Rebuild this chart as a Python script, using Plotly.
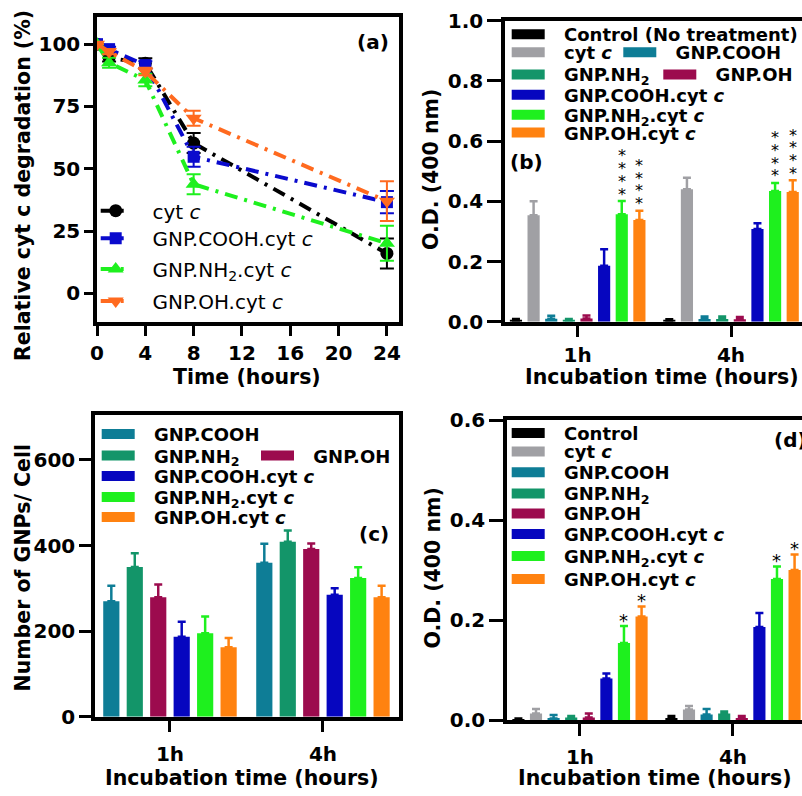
import plotly.graph_objects as go

W, H = 802, 796
FONT = "DejaVu Sans"

# ---------------- data ----------------
# (a) relative cyt c degradation (%)
time_hours = [0, 1, 4, 8, 24]
cytc_deg = [100, 94.5, 92.3, 60.3, 16.0]
cytc_deg_sd = [0, 1.5, 2.0, 4.0, 6.0]
cooh_cytc_deg = [100, 98.0, 91.6, 54.8, 36.6]
cooh_cytc_deg_sd = [0, 1.0, 1.5, 4.0, 4.5]
nh2_cytc_deg = [100, 92.5, 85.6, 43.8, 20.1]
nh2_cytc_deg_sd = [0, 2.0, 2.5, 4.0, 7.0]
oh_cytc_deg = [100, 97.0, 89.0, 70.3, 37.0]
oh_cytc_deg_sd = [0, 1.0, 1.5, 3.0, 8.0]

incubation = ["1h", "4h"]

# (b) O.D. (400 nm)
b_control = [0.004, 0.004]
b_control_sd = [0.005, 0.004]
b_cytc = [0.354, 0.440]
b_cytc_sd = [0.046, 0.038]
b_cooh = [0.010, 0.009]
b_cooh_sd = [0.010, 0.008]
b_nh2 = [0.005, 0.009]
b_nh2_sd = [0.004, 0.008]
b_oh = [0.011, 0.008]
b_oh_sd = [0.010, 0.008]
b_cooh_cytc = [0.186, 0.308]
b_cooh_cytc_sd = [0.055, 0.019]
b_nh2_cytc = [0.357, 0.434]
b_nh2_cytc_sd = [0.044, 0.027]
b_oh_cytc = [0.338, 0.431]
b_oh_cytc_sd = [0.031, 0.039]
b_nh2_cytc_stars = [4, 4]
b_oh_cytc_stars = [4, 4]

# (c) Number of GNPs / cell
c_cooh = [270, 360]
c_cooh_sd = [36, 44]
c_nh2 = [350, 409]
c_nh2_sd = [32, 26]
c_oh = [279, 392]
c_oh_sd = [30, 13]
c_cooh_cytc = [187, 285]
c_cooh_cytc_sd = [35, 15]
c_nh2_cytc = [195, 324]
c_nh2_cytc_sd = [39, 25]
c_oh_cytc = [162, 279]
c_oh_cytc_sd = [22, 27]

# (d) O.D. (400 nm)
d_control = [0.002, 0.004]
d_control_sd = [0.001, 0.004]
d_cytc = [0.013, 0.021]
d_cytc_sd = [0.009, 0.007]
d_cooh = [0.003, 0.011]
d_cooh_sd = [0.007, 0.011]
d_nh2 = [0.005, 0.013]
d_nh2_sd = [0.003, 0.004]
d_oh = [0.005, 0.004]
d_oh_sd = [0.008, 0.004]
d_cooh_cytc = [0.083, 0.186]
d_cooh_cytc_sd = [0.010, 0.028]
d_nh2_cytc = [0.154, 0.282]
d_nh2_cytc_sd = [0.034, 0.025]
d_oh_cytc = [0.207, 0.300]
d_oh_cytc_sd = [0.020, 0.031]
d_nh2_cytc_stars = [1, 1]
d_oh_cytc_stars = [1, 1]

# labels
L_CONTROL_B = "Control (No treatment)"
L_CONTROL_D = "Control"
L_CYTC = "cyt <i>c</i>"
L_COOH = "GNP.COOH"
L_NH2 = "GNP.NH<sub>2</sub>"
L_OH = "GNP.OH"
L_COOH_CYTC = "GNP.COOH.cyt <i>c</i>"
L_NH2_CYTC = "GNP.NH<sub>2</sub>.cyt <i>c</i>"
L_OH_CYTC = "GNP.OH.cyt <i>c</i>"

# colours
C_BLACK = "#000000"
C_GRAY = "#A0A0A4"
C_TEAL = "#0E7D96"
C_GREEN = "#139569"
C_MAROON = "#9C0B4E"
C_BLUE = "#0606BF"
C_LGREEN = "#1EF01E"
C_ORANGE = "#FF8210"
C_A_BLUE = "#0A0ACD"
C_A_ORANGE = "#FF6A1F"

BARGAP = 0.08
BARGROUPGAP = 0.31

fig = go.Figure()
legends = {}
_leg_n = [0]


def new_legend(x_px, y_px, size, weight, itemwidth=33):
    _leg_n[0] += 1
    name = "legend" if _leg_n[0] == 1 else "legend%d" % _leg_n[0]
    legends[name] = dict(
        x=x_px / W, y=1 - y_px / H, xref="paper", yref="paper",
        xanchor="left", yanchor="middle", bgcolor="rgba(0,0,0,0)",
        borderwidth=0, itemwidth=itemwidth, tracegroupgap=0,
        font=dict(family=FONT, size=size, color="black", weight=weight),
    )
    return name


GAP_B = "\u2007\u200a"  # extra space between swatch and text (bold 18)
GAP_A = "\u2007\u2009"


def swatch(label, color, legend, xa, ya, width=10):
    fig.add_trace(go.Scatter(
        x=[None], y=[None], mode="lines", name=GAP_B + label,
        line=dict(color=color, width=width), legend=legend,
        showlegend=True, xaxis=xa, yaxis=ya, hoverinfo="skip"))


# ---------------- panel (a) ----------------
a_series = [
    (L_CYTC, cytc_deg, cytc_deg_sd, C_BLACK, "circle", 13),
    (L_COOH_CYTC, cooh_cytc_deg, cooh_cytc_deg_sd, C_A_BLUE, "square", 12),
    (L_NH2_CYTC, nh2_cytc_deg, nh2_cytc_deg_sd, C_LGREEN, "triangle-up", 14),
    (L_OH_CYTC, oh_cytc_deg, oh_cytc_deg_sd, C_A_ORANGE, "triangle-down", 14),
]
a_leg_rows = [210.7, 238.3, 269.0, 301.0]
for (label, vals, sd, color, sym, msz), ry in zip(a_series, a_leg_rows):
    lg = new_legend(95.7, ry, 20, "normal", itemwidth=30)
    fig.add_trace(go.Scatter(
        x=time_hours, y=vals, name=GAP_A + label, mode="lines+markers",
        line=dict(color=color, width=4, dash="13px,7px,3px,7px"),
        marker=dict(color=color, symbol=sym, size=msz),
        error_y=dict(type="data", array=sd, color=color, thickness=2, width=7),
        legend=lg, xaxis="x", yaxis="y"))

# ---------------- bar helper ----------------

def add_bars(series, xa, ya, err_w):
    for label, vals, sd, color in series:
        fig.add_trace(go.Bar(
            x=incubation, y=vals, name=label, showlegend=False,
            marker=dict(color=color, line=dict(width=0)),
            error_y=dict(type="data", array=sd, arrayminus=[0] * len(sd),
                         symmetric=False, color=color, thickness=2.5, width=err_w),
            xaxis=xa, yaxis=ya))


def bar_pos(cat_idx, bar_idx, nbars):
    slot = (1 - BARGAP) / nbars
    return cat_idx + (bar_idx - (nbars - 1) / 2) * slot


annotations = []


def add_stars(vals, sd, counts, bar_idx, nbars, xa, ya, size, base, step):
    for ci in range(len(vals)):
        for k in range(counts[ci]):
            annotations.append(dict(
                x=bar_pos(ci, bar_idx, nbars), y=vals[ci] + sd[ci], xref=xa, yref=ya,
                text="*", showarrow=False, yanchor="middle", xanchor="center",
                yshift=base + k * step,
                font=dict(family=FONT, size=size, color="black")))


# ---------------- panel (b) ----------------
b_series = [
    (L_CONTROL_B, b_control, b_control_sd, C_BLACK),
    (L_CYTC, b_cytc, b_cytc_sd, C_GRAY),
    (L_COOH, b_cooh, b_cooh_sd, C_TEAL),
    (L_NH2, b_nh2, b_nh2_sd, C_GREEN),
    (L_OH, b_oh, b_oh_sd, C_MAROON),
    (L_COOH_CYTC, b_cooh_cytc, b_cooh_cytc_sd, C_BLUE),
    (L_NH2_CYTC, b_nh2_cytc, b_nh2_cytc_sd, C_LGREEN),
    (L_OH_CYTC, b_oh_cytc, b_oh_cytc_sd, C_ORANGE),
]
add_bars(b_series, "x2", "y2", 4)
add_stars(b_nh2_cytc, b_nh2_cytc_sd, b_nh2_cytc_stars, 6, 8, "x2", "y2", 16, 7, 12.7)
add_stars(b_oh_cytc, b_oh_cytc_sd, b_oh_cytc_stars, 7, 8, "x2", "y2", 16, 7, 12.7)

# legend of (b): (series index, swatch-left x, row centre y)
b_leg = [(0, 511.7, 34.5), (1, 511.7, 52.5), (2, 623.3, 52.5), (3, 511.7, 74.7),
         (4, 663.3, 74.7), (5, 511.7, 95.0), (6, 511.7, 115.0), (7, 511.7, 132.8)]
for si, lx, ly in b_leg:
    lg = new_legend(lx - 5, ly, 18, "bold")
    swatch(b_series[si][0], b_series[si][3], lg, "x2", "y2")

# ---------------- panel (c) ----------------
c_series = [
    (L_COOH, c_cooh, c_cooh_sd, C_TEAL),
    (L_NH2, c_nh2, c_nh2_sd, C_GREEN),
    (L_OH, c_oh, c_oh_sd, C_MAROON),
    (L_COOH_CYTC, c_cooh_cytc, c_cooh_cytc_sd, C_BLUE),
    (L_NH2_CYTC, c_nh2_cytc, c_nh2_cytc_sd, C_LGREEN),
    (L_OH_CYTC, c_oh_cytc, c_oh_cytc_sd, C_ORANGE),
]
add_bars(c_series, "x3", "y3", 4)
c_leg = [(0, 101.7, 434.2), (1, 101.7, 455.8), (2, 261.0, 455.8), (3, 101.7, 476.3),
         (4, 101.7, 497.2), (5, 101.7, 517.2)]
for si, lx, ly in c_leg:
    lg = new_legend(lx - 5, ly, 18, "bold")
    swatch(c_series[si][0], c_series[si][3], lg, "x3", "y3", width=11)

# ---------------- panel (d) ----------------
d_series = [
    (L_CONTROL_D, d_control, d_control_sd, C_BLACK),
    (L_CYTC, d_cytc, d_cytc_sd, C_GRAY),
    (L_COOH, d_cooh, d_cooh_sd, C_TEAL),
    (L_NH2, d_nh2, d_nh2_sd, C_GREEN),
    (L_OH, d_oh, d_oh_sd, C_MAROON),
    (L_COOH_CYTC, d_cooh_cytc, d_cooh_cytc_sd, C_BLUE),
    (L_NH2_CYTC, d_nh2_cytc, d_nh2_cytc_sd, C_LGREEN),
    (L_OH_CYTC, d_oh_cytc, d_oh_cytc_sd, C_ORANGE),
]
add_bars(d_series, "x4", "y4", 4)
add_stars(d_nh2_cytc, d_nh2_cytc_sd, d_nh2_cytc_stars, 6, 8, "x4", "y4", 18, 6, 0)
add_stars(d_oh_cytc, d_oh_cytc_sd, d_oh_cytc_stars, 7, 8, "x4", "y4", 18, 6, 0)
d_leg_rows = [433.3, 451.7, 472.5, 493.7, 513.7, 534.2, 556.3, 579.2]
for si, ly in enumerate(d_leg_rows):
    lg = new_legend(511.7 - 5, ly, 18, "bold")
    swatch(d_series[si][0], d_series[si][3], lg, "x4", "y4")

# ---------------- axes ----------------
TICKFONT = dict(family=FONT, size=20, color="black", weight="bold")


def ax_style(**kw):
    d = dict(showline=True, linewidth=3.5, linecolor="black", ticks="outside",
             ticklen=10, tickwidth=3, tickcolor="black", showgrid=False,
             zeroline=False, tickfont=TICKFONT, fixedrange=True)
    d.update(kw)
    return d


def xd(l, r):
    return [l / W, r / W]


def yd(top, bottom):
    return [1 - bottom / H, 1 - top / H]


layout_axes = dict(
    xaxis=ax_style(domain=xd(97, 399), range=[0, 25], tick0=0, dtick=4, mirror=True,
                   anchor="y", ticklabelstandoff=0),
    yaxis=ax_style(domain=yd(17, 322), range=[-11.5, 110.9], tick0=0, dtick=25,
                   mirror=True, anchor="x", ticklen=9),
    xaxis2=ax_style(domain=xd(505, 802), range=[-0.474, 1.463], type="category",
                    mirror=True, anchor="y2", ticklen=12, ticklabelstandoff=1),
    yaxis2=ax_style(domain=yd(20.7, 321.7), range=[0, 1.0], dtick=0.2, tickformat=".1f",
                    anchor="x2", ticklen=14),
    xaxis3=ax_style(domain=xd(95, 399), range=[-0.49, 1.497], type="category",
                    mirror=True, anchor="y3", ticklen=12, ticklabelstandoff=5),
    yaxis3=ax_style(domain=yd(415, 716.7), range=[0, 705], dtick=200, mirror=True,
                    anchor="x3", ticklen=12),
    xaxis4=ax_style(domain=xd(507, 802), range=[-0.477, 1.451], type="category",
                    mirror=True, anchor="y4", ticklen=12, ticklabelstandoff=4),
    yaxis4=ax_style(domain=yd(420, 720), range=[0, 0.6], dtick=0.2, tickformat=".1f",
                    anchor="x4", ticklen=14),
)

# ---------------- titles & panel labels ----------------
TFONT = dict(family=FONT, size=20.5, color="black", weight="bold")


def txt(text, x_px, y_px, angle=0, xanchor="center", size=None):
    f = dict(TFONT)
    if size:
        f["size"] = size
    annotations.append(dict(text=text, x=x_px / W, y=1 - y_px / H, xref="paper",
                            yref="paper", showarrow=False, textangle=angle,
                            xanchor=xanchor, yanchor="middle", font=f))


txt("Relative cyt c degradation (%)", 23, 186, -90)
txt("Time (hours)", 247, 377)
txt("O.D. (400 nm)", 431, 170, -90)
txt("Incubation time (hours)", 662, 377)
txt("Number of GNPs/ Cell", 22, 567.5, -90)
txt("Incubation time (hours)", 242, 778)
txt("O.D. (400 nm)", 432.5, 568, -90)
txt("Incubation time (hours)", 655, 778)
txt("(a)", 373, 42, size=20)
txt("(b)", 526, 162, size=20)
txt("(c)", 374, 534, size=20)
txt("(d)", 772, 440, xanchor="left", size=20)

fig.update_layout(
    width=W, height=H,
    margin=dict(l=0, r=0, t=0, b=0, pad=0, autoexpand=False),
    paper_bgcolor="white", plot_bgcolor="white",
    barmode="group", bargap=BARGAP, bargroupgap=BARGROUPGAP,
    font=dict(family=FONT, color="black"),
    annotations=annotations,
    showlegend=True,
    **layout_axes,
    **legends,
)

fig.write_html(
    "out.html",
    config={"displayModeBar": False},
    post_script="document.body.style.margin='0px';document.body.style.padding='0px';"
                "document.documentElement.style.overflow='hidden';",
)
